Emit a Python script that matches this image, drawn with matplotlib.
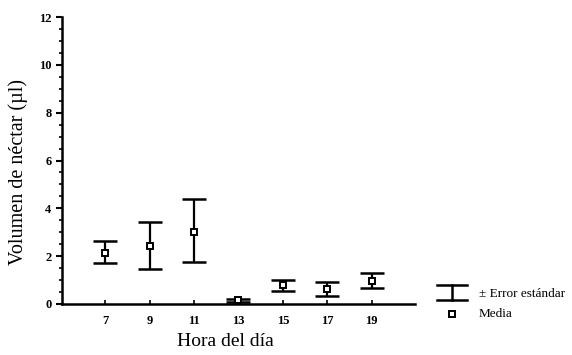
import matplotlib
matplotlib.use("Agg")
import matplotlib.pyplot as plt
from matplotlib.lines import Line2D
from matplotlib.ticker import MultipleLocator

hours = [7, 9, 11, 13, 15, 17, 19]
means = [2.12, 2.44, 3.01, 0.15, 0.78, 0.63, 0.97]
upper = [2.65, 3.44, 4.39, 0.20, 1.00, 0.91, 1.28]
lower = [1.73, 1.48, 1.74, 0.10, 0.56, 0.35, 0.66]
yticks = [0, 2, 4, 6, 8, 10, 12]

plt.rcParams['font.family'] = ['Liberation Serif', 'DejaVu Serif']

W, H = 572, 355
fig = plt.figure(figsize=(W / 100, H / 100), dpi=100)
ax = fig.add_axes([62 / W, 1 - 304 / H, (415 - 62) / W, (304 - 17) / H])

yerr = [[m - l for m, l in zip(means, lower)], [u - m for u, m in zip(upper, means)]]
ax.errorbar(hours, means, yerr=yerr, fmt='none', ecolor='black',
            elinewidth=1.6, capsize=8.5, capthick=1.8)
ax.plot(hours, means, linestyle='none', marker='s', markersize=4,
        markerfacecolor='white', markeredgecolor='black', markeredgewidth=1.4)

ax.set_xlim(5.05, 20.95)
ax.set_ylim(0, 12)
ax.set_xticks(hours)
ax.set_yticks(yticks)
ax.yaxis.set_minor_locator(MultipleLocator(0.5))
for s in ['top', 'right']:
    ax.spines[s].set_visible(False)
for s in ['left', 'bottom']:
    ax.spines[s].set_linewidth(1.8)
ax.tick_params(axis='y', which='major', direction='out', length=4, width=1.5,
               labelsize=9)
ax.tick_params(axis='y', which='minor', direction='out', length=2, width=1.2)
ax.tick_params(axis='x', which='major', direction='in', length=3, width=1.2,
               labelsize=9, pad=8)
for lab in ax.get_xticklabels() + ax.get_yticklabels():
    lab.set_fontweight('bold')

ax.set_ylabel('Volumen de néctar (µl)', fontsize=14.5, va='center')
ax.yaxis.set_label_coords((18 - 62) / 353, (304 - 172) / 287)
ax.set_xlabel('Hora del día', fontsize=14, va='center')
ax.xaxis.set_label_coords((225 - 62) / 353, (304 - 342) / 287)

# legend drawn manually in figure pixel coordinates
def fx(x):
    return x / W

def fy(y):
    return 1 - y / H

lw = 1.8
fig.add_artist(Line2D([fx(437), fx(467)], [fy(285), fy(285)], color='black', lw=lw))
fig.add_artist(Line2D([fx(452), fx(452)], [fy(285), fy(300)], color='black', lw=lw))
fig.add_artist(Line2D([fx(437), fx(467)], [fy(300), fy(300)], color='black', lw=lw))
fig.add_artist(Line2D([fx(452)], [fy(314)], marker='s', markersize=4,
                      markerfacecolor='white', markeredgecolor='black',
                      markeredgewidth=1.4, linestyle='none'))
fig.text(fx(479), fy(294), '± Error estándar', fontsize=9.5, va='center', ha='left')
fig.text(fx(479), fy(314), 'Media', fontsize=9.5, va='center', ha='left')

fig.savefig('out.png', dpi=100)
